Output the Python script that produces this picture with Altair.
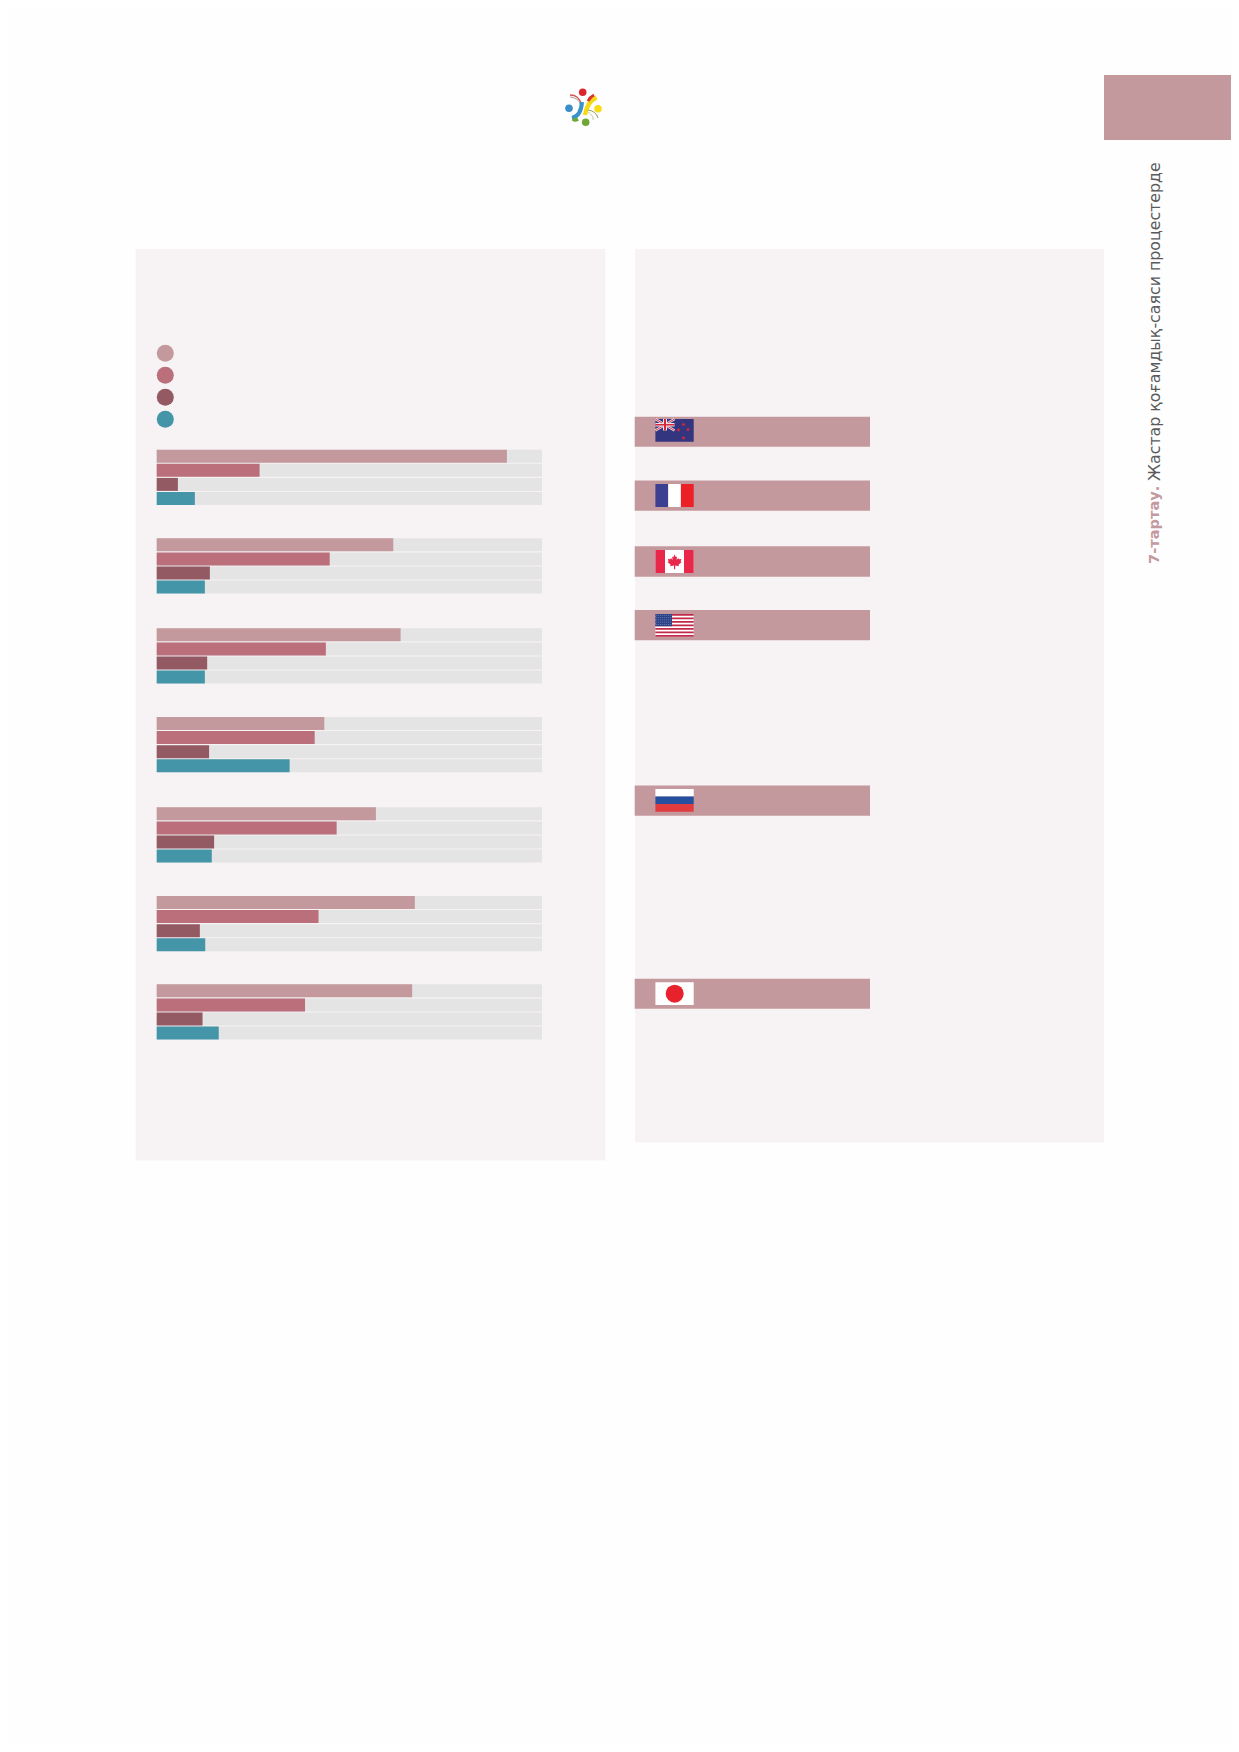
import altair as alt
import pandas as pd

series = ["A", "B", "C", "D"]
colors = ["#c4999e", "#ba6f7b", "#945a64", "#4595a8"]
s1 = [90.9, 26.7, 5.5, 9.9]
s2 = [61.4, 44.9, 13.8, 12.5]
s3 = [63.3, 43.9, 13.1, 12.5]
s4 = [43.5, 41.0, 13.6, 34.5]
s5 = [56.9, 46.7, 14.9, 14.3]
s6 = [67.0, 42.0, 11.2, 12.6]
s7 = [66.3, 38.5, 11.9, 16.1]
groups = [s1, s2, s3, s4, s5, s6, s7]
full = [100, 100, 100, 100]
title_bold = "7-тартау."
title_regular = "Жастар қоғамдық-саяси процестерде"

OX = OY = 8
ONE = pd.DataFrame({"a": [0]})
group_tops = [449.7, 538.3, 628.3, 717.0, 807.3, 896.0, 984.3]
STEP = 14.1
X_SCALE = alt.Scale(domain=[0, 100], range=[156.7 - OX, 542 - OX])
COLOR = alt.Color("series:N", scale=alt.Scale(domain=series, range=colors), legend=None)
layers = []


def rect(x0, y0, x1, y1, color):
    layers.append(alt.Chart(ONE).mark_rect(color=color, opacity=1).encode(
        x=alt.value(x0 - OX), x2=alt.value(x1 - OX),
        y=alt.value(y0 - OY), y2=alt.value(y1 - OY)))


def rule(x0, y0, x1, y1, color, w, dash=None):
    kw = {"strokeDash": dash} if dash else {}
    layers.append(alt.Chart(ONE).mark_rule(color=color, strokeWidth=w, opacity=1, **kw).encode(
        x=alt.value(x0 - OX), x2=alt.value(x1 - OX),
        y=alt.value(y0 - OY), y2=alt.value(y1 - OY)))


def symbol(cx, cy, shape, d, color):
    layers.append(alt.Chart(ONE).mark_point(
        shape=shape, size=d * d, filled=True, color=color, opacity=1, strokeWidth=0
    ).encode(x=alt.value(cx - OX), y=alt.value(cy - OY)))


def curve(p0, c, p1, color, w):
    u = 22.0
    d = f"M{p0[0]/u:.3f},{p0[1]/u:.3f}Q{c[0]/u:.3f},{c[1]/u:.3f} {p1[0]/u:.3f},{p1[1]/u:.3f}"
    layers.append(alt.Chart(ONE).mark_point(
        shape=d, size=(2 * u) ** 2, filled=False, stroke=color, strokeWidth=w, opacity=1
    ).encode(x=alt.value(585 - OX), y=alt.value(108 - OY)))


# panels
rect(135.7, 249, 605.5, 1160.5, "#f7f3f4")
rect(635, 249, 1104, 1142.5, "#f7f3f4")
rect(1104, 75, 1231, 140, "#c4999e")

# logo
curve((-15, -13), (-6, -13), (-4, -4), "#d8554f", 1.3)
curve((-15, -11), (-6, -10), (-4.5, -3), "#9a9a9a", 0.9)
curve((11.5, -10.5), (2, -6), (0, 7), "#f6d90f", 4.2)
curve((-13, 10), (-4, 8), (-3, -6), "#3a93cb", 4)
curve((3, 2), (11, 3), (13, 10), "#8a9a6a", 1)
curve((3, 4), (9, 8), (8, 12), "#b8c9a0", 0.9)
curve((-12, 11), (-10, 13), (-7, 11), "#6fa834", 3.4)
curve((3, -7), (5, -11), (9, -13), "#d8352f", 2.8)
symbol(582.7, 92.3, "circle", 7.6, "#d8262c")
symbol(598, 108.7, "circle", 7.6, "#f6dc16")
symbol(585.7, 122.3, "circle", 7.6, "#6fa834")
symbol(569, 108.3, "circle", 7.6, "#3a8fc9")

# legend dots
layers.append(alt.Chart(pd.DataFrame({"series": series})).mark_circle(size=289, opacity=1).encode(
    x=alt.value(165.3 - OX),
    y=alt.Y("series:N", axis=None, scale=alt.Scale(type="point", domain=series, padding=0,
                                                   range=[353.3 - OY, 419.3 - OY])),
    color=COLOR))

# bars
for top, vals in zip(group_tops, groups):
    yscale = alt.Scale(type="band", domain=series, padding=0,
                       range=[top - 0.55 - OY, top - 0.55 - OY + 4 * STEP])
    layers.append(alt.Chart(pd.DataFrame({"series": series, "value": full})).mark_bar(
        height=13, color="#e4e4e4", opacity=1).encode(
        x=alt.X("value:Q", scale=X_SCALE, axis=None, stack=False),
        y=alt.Y("series:N", scale=yscale, axis=None)))
    layers.append(alt.Chart(pd.DataFrame({"series": series, "value": vals})).mark_bar(
        height=13, opacity=1).encode(
        x=alt.X("value:Q", scale=X_SCALE, axis=None, stack=False),
        y=alt.Y("series:N", scale=yscale, axis=None),
        color=COLOR))

# country bands
BAND = "#c4999e"
for y0, y1 in [(416.7, 446.7), (480.4, 510.7), (546.3, 576.7), (610, 640.3), (785.4, 815.7), (978.7, 1008.7)]:
    rect(634.7, y0, 870, y1, BAND)
FX0, FX1 = 655.4, 693.7

# New Zealand
y0, y1 = 419, 441.7
rect(FX0, y0, FX1, y1, "#33357f")
rule(FX0, y0, 674.5, 430.5, "#e9e3ea", 2.6)
rule(FX0, 430.5, 674.5, y0, "#e9e3ea", 2.6)
rule(FX0, y0, 674.5, 430.5, "#d8263c", 0.9)
rule(FX0, 430.5, 674.5, y0, "#d8263c", 0.9)
rect(663, y0, 667, 430.5, "#e9e3ea")
rect(FX0, 423, 674.5, 426.5, "#e9e3ea")
rect(664, y0, 666, 430.5, "#d8263c")
rect(FX0, 424, 674.5, 425.5, "#d8263c")
STAR = "M0,-1L.28,-.35L.95,-.31L.45,.13L.59,.81L0,.45L-.59,.81L-.45,.13L-.95,-.31L-.28,-.35Z"
for cx, cy in [(683.5, 424.5), (678.5, 430), (688, 429.5), (683.5, 438)]:
    symbol(cx, cy, STAR, 4.5, "#d8263c")

# France
y0, y1 = 484, 507
rect(FX0, y0, 668.2, y1, "#3d3f91")
rect(668.2, y0, 680.9, y1, "#ffffff")
rect(680.9, y0, FX1, y1, "#ec2027")

# Canada
y0, y1 = 550, 573
rect(FX0, y0, FX1, y1, "#ffffff")
rect(FX0, y0, 665, y1, "#e8274b")
rect(684, y0, FX1, y1, "#e8274b")
MAPLE = ("M0,-1L.18,-.62L.33,-.72L.26,-.28L.5,-.52L.58,-.36L.9,-.4L.8,-.08L.95,0L.52,.38L.6,.56"
         "L.08,.48L.08,.95L-.08,.95L-.08,.48L-.6,.56L-.52,.38L-.95,0L-.8,-.08L-.9,-.4L-.58,-.36"
         "L-.5,-.52L-.26,-.28L-.33,-.72L-.18,-.62Z")
symbol(674.6, 562, MAPLE, 15, "#e8274b")

# USA
y0, y1 = 614, 636.7
rect(FX0, y0, FX1, y1, "#ffffff")
h = (y1 - y0) / 13
for i in range(0, 13, 2):
    rect(FX0, y0 + i * h, FX1, y0 + (i + 1) * h, "#c2284a")
rect(FX0, y0, 672, y0 + 7 * h, "#2a3f86")
for i in range(5):
    rule(FX0 + 0.8, y0 + 1.3 + i * 2.3, 672, y0 + 1.3 + i * 2.3, "#6f80b3", 1, dash=[1, 1])

# Russia
y0, y1 = 789, 811.7
rect(FX0, y0, FX1, 796.6, "#ffffff")
rect(FX0, 796.6, FX1, 804.1, "#25509f")
rect(FX0, 804.1, FX1, y1, "#e13b3f")

# Japan
rect(FX0, 982.3, FX1, 1005, "#ffffff")
symbol(674.7, 993.7, "circle", 18, "#e8222c")

# side title
layers.append(alt.Chart(ONE).mark_text(
    text=title_bold, angle=270, align="left", baseline="middle", font="DejaVu Sans",
    fontSize=14.6, fontWeight="bold", color="#c4999e").encode(
    x=alt.value(1155 - OX), y=alt.value(564 - OY)))
layers.append(alt.Chart(ONE).mark_text(
    text=title_regular, angle=270, align="left", baseline="middle", font="DejaVu Sans",
    fontSize=15.8, color="#5a5a5a").encode(
    x=alt.value(1155 - OX), y=alt.value(481 - OY)))

chart = alt.layer(*layers).resolve_scale(y="independent").properties(
    width=1223, height=1736, padding=0, background="#fefefe",
    autosize=alt.AutoSizeParams(type="none")
).configure_view(stroke=None)

chart.save("out.html", embed_options={"renderer": "svg", "actions": False})
